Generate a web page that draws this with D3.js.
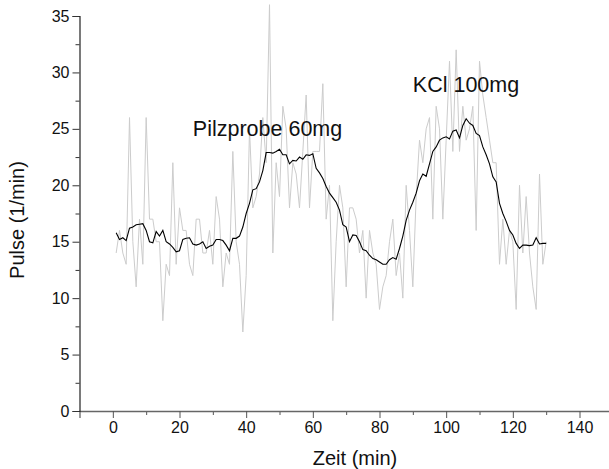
<!DOCTYPE html>
<html>
<head>
<meta charset="utf-8">
<script src="https://cdn.jsdelivr.net/npm/d3@7"></script>
<style>
  html, body { margin: 0; padding: 0; background: #fff; }
  svg { display: block; font-family: "Liberation Sans", Arial, sans-serif; }
</style>
</head>
<body>
<svg id="chart" width="609" height="469"></svg>
<script>
// ---- data ----
const time = [1,2,3,4,5,6,7,8,9,10,11,12,13,14,15,16,17,18,19,20,
  21,22,23,24,25,26,27,28,29,30,31,32,33,34,35,36,37,38,39,40,
  41,42,43,44,45,46,47,48,49,50,51,52,53,54,55,56,57,58,59,60,
  61,62,63,64,65,66,67,68,69,70,71,72,73,74,75,76,77,78,79,80,
  81,82,83,84,85,86,87,88,89,90,91,92,93,94,95,96,97,98,99,100,
  101,102,103,104,105,106,107,108,109,110,111,112,113,114,115,116,117,118,119,120,
  121,122,123,124,125,126,127,128,129,130];
const pulseRaw = [14,16,14,13,26,15,11,17,13,26,17,17,15,15,8,13,12,22,13,18,
  16,16,13,12,17,17,14,14,16,13,19,17,11,14,13,23,15,13,7,12,
  25,18,19,21,26,22,36,14,22,19,27,25,18,22,21,18,23,28,18,23,
  23,23,29,17,20,8,15,20,18,11,18,18,17,14,16,10,16,14,13,9,
  11,12,15,17,12,14,10,20,16,11,19,24,22,25,26,17,27,25,17,24,
  31,23,32,23,27,24,25,27,16,31,28,26,24,22,22,13,17,13,16,15,
  9,20,14,19,14,11,9,21,13,15];
const pulseSmooth = [15.8,15.2,15.35,15.1,16.2,16.3,16.5,16.55,16.6,16.0,15.0,14.9,15.9,15.5,16.0,15.0,14.8,14.5,14.1,14.2,
  15.2,15.3,15.35,14.8,14.7,14.8,15.0,14.4,14.6,14.7,15.2,15.2,15.1,14.7,14.2,15.3,15.3,15.5,16.3,17.5,
  18.4,19.6,19.7,20.3,21.3,22.9,22.9,22.85,23.0,23.2,22.7,22.7,21.9,22.2,22.15,22.5,22.3,22.7,22.65,22.8,
  21.5,21.1,20.6,19.9,19.3,18.9,18.5,17.8,16.5,16.3,15.0,15.6,15.55,15.0,14.3,14.2,13.8,13.5,13.4,13.2,
  13.0,13.0,13.4,13.6,13.45,14.4,15.5,16.9,17.8,18.5,19.3,20.4,21.0,20.8,21.9,23.0,23.4,24.0,24.2,24.3,
  24.1,24.8,24.9,24.2,25.3,25.9,25.5,25.3,24.6,24.4,23.4,22.7,21.9,20.75,20.3,18.4,17.5,16.8,16.0,15.6,
  14.85,14.4,14.7,14.7,14.65,14.7,15.35,14.8,14.85,14.85];
const xTicks = [0,20,40,60,80,100,120,140];
const xMinor = [10,30,50,70,90,110,130,150];
const yTicks = [0,5,10,15,20,25,30,35];
const yMinor = [2.5,7.5,12.5,17.5,22.5,27.5,32.5];
const annotations = [
  {text: "Pilzprobe 60mg", t: 24, v: 24.4},
  {text: "KCl 100mg", t: 90, v: 28.3}
];
const xTitle = "Zeit (min)";
const yTitle = "Pulse (1/min)";

// ---- layout ----
const svg = d3.select("#chart");
const padLeft = 79.5, padBottom = 411, padTop = 16;
const x = d3.scaleLinear().domain([-10, 150]).range([padLeft, padLeft + 160 * 10 / 3]);
const y = d3.scaleLinear().domain([0, 35]).range([padBottom, padTop]);

// gray raw line
const rows = time.map((t, i) => ({t, raw: pulseRaw[i], sm: pulseSmooth[i]}));
svg.append("path")
  .datum(rows)
  .attr("fill", "none")
  .attr("stroke", "#cccccc")
  .attr("stroke-width", 1)
  .attr("d", d3.line().x(d => x(d.t)).y(d => y(d.raw)));

// smoothed black line
svg.append("path")
  .datum(rows)
  .attr("fill", "none")
  .attr("stroke", "#000")
  .attr("stroke-width", 1.1)
  .attr("d", d3.line().x(d => x(d.t)).y(d => y(d.sm)));

// x axis
const gx = svg.append("g").attr("transform", `translate(0,${padBottom})`);
gx.append("g").call(d3.axisBottom(x).tickValues(xMinor).tickSize(4).tickFormat(""))
  .select(".domain").remove();
gx.append("g").call(d3.axisBottom(x).tickValues(xTicks).tickSize(7).tickPadding(4).tickFormat(d3.format("d")));
gx.selectAll(".domain").attr("stroke", "#666").attr("stroke-width", 1.3);
gx.selectAll(".tick line").attr("stroke", "#555");
gx.selectAll("text").attr("font-size", 16).attr("fill", "#111")
  .attr("font-family", "Liberation Sans, Arial, sans-serif");

// y axis
const gy = svg.append("g").attr("transform", `translate(${padLeft},0)`);
gy.append("g").call(d3.axisLeft(y).tickValues(yMinor).tickSize(4).tickFormat(""))
  .select(".domain").remove();
gy.append("g").call(d3.axisLeft(y).tickValues(yTicks).tickSize(7).tickPadding(3).tickFormat(d3.format("d")));
gy.selectAll(".domain").attr("stroke", "#222").attr("stroke-width", 1.2);
gy.selectAll(".tick line").attr("stroke", "#333");
gy.selectAll("text").attr("font-size", 16).attr("fill", "#111")
  .attr("font-family", "Liberation Sans, Arial, sans-serif");

// titles
svg.append("text")
  .attr("x", 355)
  .attr("y", 465)
  .attr("text-anchor", "middle")
  .attr("font-size", 20)
  .attr("fill", "#111")
  .text(xTitle);
svg.append("text")
  .attr("transform", `translate(24,220) rotate(-90)`)
  .attr("text-anchor", "middle")
  .attr("font-size", 20)
  .attr("fill", "#111")
  .text(yTitle);

// annotations
svg.selectAll(".anno")
  .data(annotations)
  .enter().append("text")
  .attr("class", "anno")
  .attr("x", d => x(d.t))
  .attr("y", d => y(d.v))
  .attr("font-size", 21.5)
  .attr("fill", "#111")
  .text(d => d.text);
</script>
</body>
</html>
